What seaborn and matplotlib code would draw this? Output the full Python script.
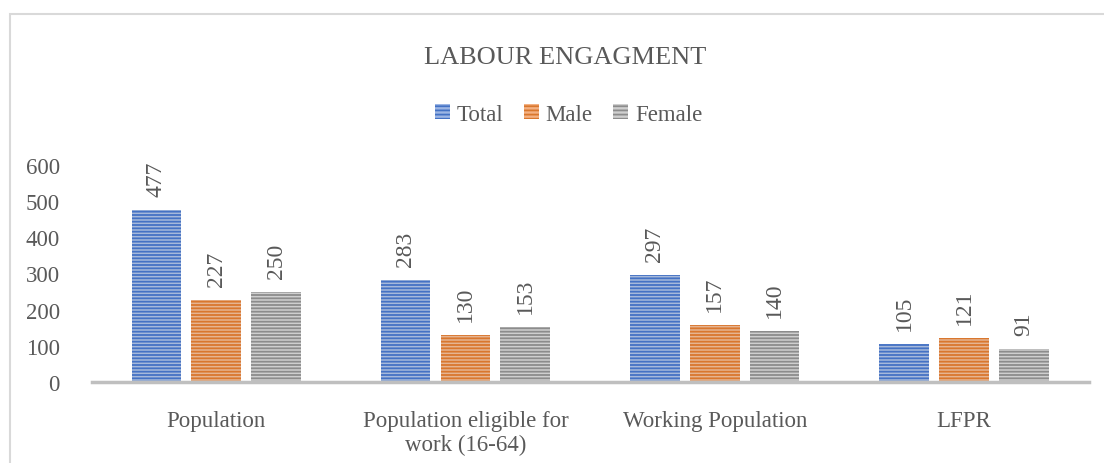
import matplotlib
matplotlib.use("Agg")
import matplotlib.pyplot as plt
import seaborn as sns
import pandas as pd
from matplotlib.patches import Rectangle

categories = ["Population", "Population eligible for\nwork (16-64)", "Working Population", "LFPR"]
series = ["Total", "Male", "Female"]
total = [477, 283, 297, 105]
male = [227, 130, 157, 121]
female = [250, 153, 140, 91]

face = {"Total": "#9db6e4", "Male": "#f4b183", "Female": "#cfcfcf"}
stripe = {"Total": "#4472c4", "Male": "#d9772e", "Female": "#8c8c8c"}
text_c = "#595959"

df = pd.DataFrame({
    "category": categories * 3,
    "series": ["Total"] * 4 + ["Male"] * 4 + ["Female"] * 4,
    "value": total + male + female,
})

sns.set_style("white")
plt.rcParams["font.family"] = ["Liberation Serif", "DejaVu Serif"]
plt.rcParams["hatch.linewidth"] = 1.3

fig = plt.figure(figsize=(11.04, 4.64), dpi=100)
ax = fig.add_axes([0.083, 0.175, 0.903, 0.467])

sns.barplot(data=df, x="category", y="value", hue="series", hue_order=series,
            palette=face, width=0.72, gap=0.17, ax=ax, legend=False)

for cont, name in zip(ax.containers, series):
    for bar in cont:
        bar.set_hatch("-----")
        bar.set_edgecolor(stripe[name])
        bar.set_linewidth(0)
    ax.bar_label(cont, labels=[f"{v:.0f}" for v in cont.datavalues], rotation=90,
                 padding=10, fontsize=17, color=text_c)

ax.set_ylim(0, 600)
ax.set_yticks(range(0, 601, 100))
ax.set_xlabel("")
ax.set_ylabel("")
ax.tick_params(axis="both", length=0, labelsize=16.5, labelcolor=text_c)
ax.tick_params(axis="x", pad=20)
ax.tick_params(axis="y", pad=23)
for s in ["top", "right", "left"]:
    ax.spines[s].set_visible(False)
ax.spines["bottom"].set_color("#bfbfbf")
ax.spines["bottom"].set_linewidth(2.5)
ax.set_xlim(-0.5, 3.5)

# legend
handles = [Rectangle((0, 0), 1, 1, facecolor=face[s], edgecolor=stripe[s],
                     hatch="----", linewidth=0) for s in series]
fig.legend(handles, series, loc="center", bbox_to_anchor=(0.515, 0.752), ncol=3,
           frameon=False, fontsize=16.5, handlelength=0.65, handleheight=0.65,
           handletextpad=0.3, columnspacing=0.9, labelcolor=text_c)

fig.text(0.512, 0.875, "LABOUR ENGAGMENT", ha="center", va="center",
         fontsize=19, color=text_c)

fig.patches.append(Rectangle((0.0095, -0.05), 1.1, 1.017, transform=fig.transFigure,
                             fill=False, edgecolor="#d9d9d9", linewidth=1.5))

fig.savefig("out.png", dpi=100)
